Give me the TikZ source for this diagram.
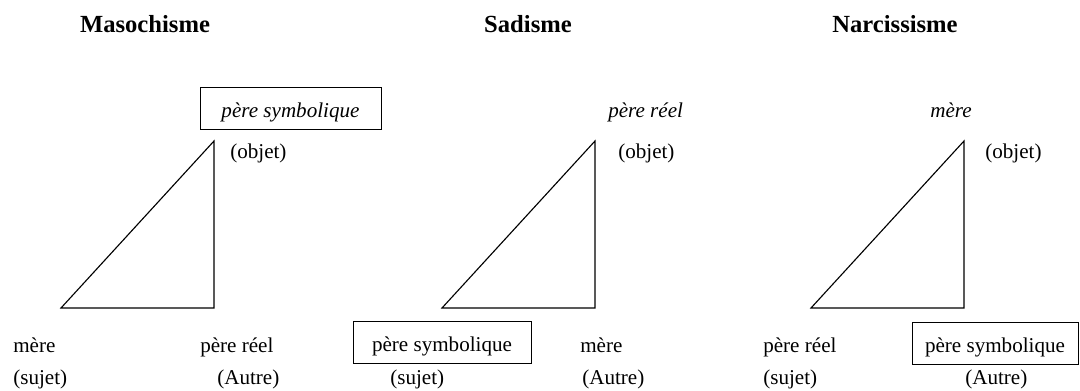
\documentclass[tikz,border=0pt]{standalone}
\usepackage{fontspec}
\setmainfont{Liberation Serif}
\begin{document}
\begin{tikzpicture}[x=0.025cm,y=-0.025cm,
    lbl/.style={inner sep=0pt,anchor=base west,font=\fontsize{15}{18}\selectfont},
    titre/.style={inner sep=0pt,anchor=base,font=\fontsize{17.5}{21}\selectfont\bfseries},
    cadre/.style={draw,line width=0.6pt,inner sep=0pt,anchor=base,
      text height=0.75cm,text depth=0.3cm,font=\fontsize{15}{18}\selectfont}]
  \useasboundingbox (0,0) rectangle (1080,390);
  % titres
  \node[titre] (tM) at (145,32) {Masochisme};
  \node[titre] (tS) at (528,32) {Sadisme};
  \node[titre] (tN) at (895,32) {Narcissisme};
  % triangles
  \foreach \n/\l/\r in {M/61/214,S/442/595,N/811/964} {
    \coordinate (\n g) at (\l,308);
    \coordinate (\n d) at (\r,308);
    \coordinate (\n h) at (\r,141);
    \draw[line width=0.8pt] (\n g) -- (\n d) -- (\n h) -- cycle;
  }
  % masochisme
  \node[cadre,minimum width=4.525cm] (MpS) at (290.5,117.5) {\itshape père symbolique};
  \node[lbl] (Mo) at (230,158) {(objet)};
  \node[lbl] (Mm) at (13,352) {mère};
  \node[lbl] (Ms) at (13,384.5) {(sujet)};
  \node[lbl] (MpR) at (200,352) {père réel};
  \node[lbl] (Ma) at (217,384.5) {(Autre)};
  % sadisme
  \node[lbl] (SpR) at (608,117) {\itshape père réel};
  \node[lbl] (So) at (618,158) {(objet)};
  \node[cadre,minimum width=4.45cm] (SpS) at (442,351) {père symbolique};
  \node[lbl] (Ss) at (390,384.5) {(sujet)};
  \node[lbl] (Sm) at (580,352) {mère};
  \node[lbl] (Sa) at (582,384.5) {(Autre)};
  % narcissisme
  \node[lbl] (Nm) at (930,117) {\itshape mère};
  \node[lbl] (No) at (985,158) {(objet)};
  \node[lbl] (NpR) at (763,352) {père réel};
  \node[lbl] (Ns) at (763,384.5) {(sujet)};
  \node[cadre,minimum width=4.15cm] (NpS) at (995,352) {père symbolique};
  \node[lbl] (Na) at (965,384.5) {(Autre)};
\end{tikzpicture}
\end{document}
